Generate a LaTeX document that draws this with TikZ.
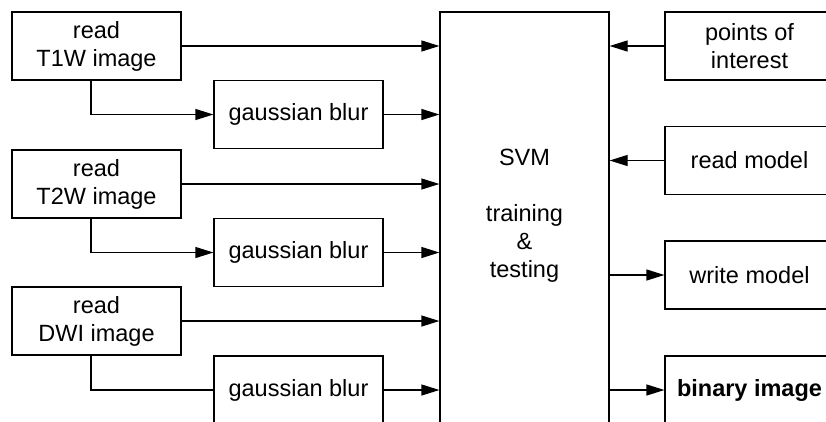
\documentclass[tikz,border=0pt]{standalone}
\usepackage{fontspec}
\setmainfont{Liberation Sans}
\usetikzlibrary{arrows.meta}
\begin{document}
\begin{tikzpicture}[x=1pt,y=-1pt,
  line width=1.2pt,
  box/.style={draw, rectangle, minimum width=169pt, minimum height=68pt,
    inner sep=0pt, align=center,
    font=\fontsize{23.5pt}{28pt}\selectfont},
  arr/.style={-{Triangle[length=18pt,width=11pt]}},
  link/.style={-}]
\useasboundingbox (0,0) rectangle (826,421);
\clip (0,0) rectangle (826,421);

% input readers and blur stages
\node[box] (t1)  at (96.5,46)    {read\\T1W image};
\node[box] (gb1) at (298.5,114.5) {gaussian blur};
\node[box] (t2)  at (96.5,184)   {read\\T2W image};
\node[box] (gb2) at (298.5,252.5) {gaussian blur};
\node[box] (dwi) at (96.5,321)   {read\\DWI image};
\node[box] (gb3) at (298.5,390)  {gaussian blur};

% classifier
\node[box, minimum height=412pt] (svm) at (524.5,218) {};
\node[font=\fontsize{23.5pt}{28pt}\selectfont, align=center, inner sep=0pt]
  (svmtxt) at (524.5,216) {SVM\\[28pt]training\\\&\\testing};

% side inputs and outputs
\node[box] (poi) at (749.5,46)    {points of\\interest};
\node[box] (rm)  at (749.5,160.5) {read model};
\node[box] (wm)  at (749.5,275)   {write model};
\node[box] (bin) at (749.5,390)   {\bfseries binary image};

% taps from the readers down to the blur stages
\coordinate (t1tap)  at ([xshift=-5.5pt]t1.south);
\coordinate (t2tap)  at ([xshift=-5.5pt]t2.south);
\coordinate (dwitap) at ([xshift=-5.5pt]dwi.south);

% connectors into the classifier
\draw[arr] (t1.east)  -- (t1.east -| svm.west);
\draw[arr] (t1tap) |- (gb1.west);
\draw[arr] (gb1.east) -- (gb1.east -| svm.west);
\draw[arr] (t2.east)  -- (t2.east -| svm.west);
\draw[arr] (t2tap) |- (gb2.west);
\draw[arr] (gb2.east) -- (gb2.east -| svm.west);
\draw[arr] (dwi.east) -- (dwi.east -| svm.west);
\draw[link] (dwitap) |- (gb3.west);
\draw[arr] (gb3.east) -- (gb3.east -| svm.west);

\draw[arr] (poi.west) -- (poi.west -| svm.east);
\draw[arr] (rm.west)  -- (rm.west -| svm.east);
\draw[arr] (wm.west -| svm.east)  -- (wm.west);
\draw[arr] (bin.west -| svm.east) -- (bin.west);
\end{tikzpicture}
\end{document}
